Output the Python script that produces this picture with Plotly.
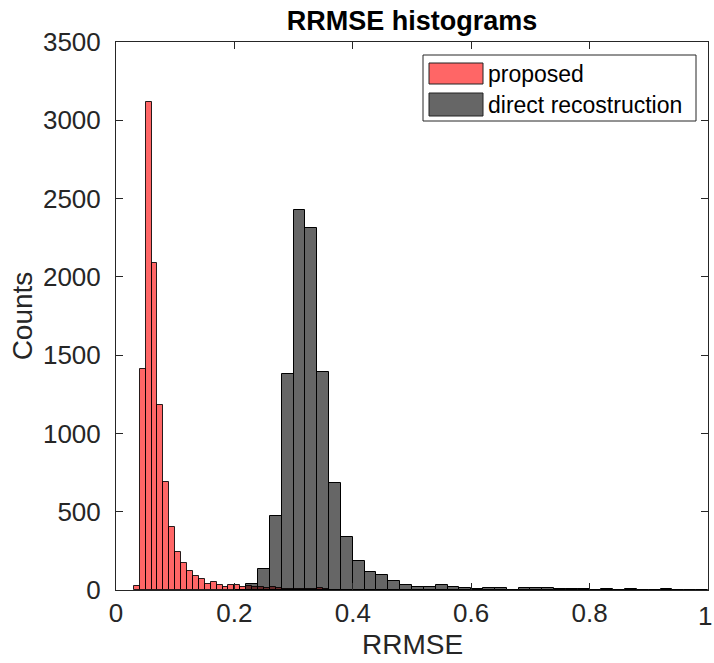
import numpy as np
import plotly.graph_objects as go

# ---- data ----
red_name = "proposed"
gray_name = "direct recostruction"

red_bin_width = 0.01
red_bin_start = 0.03
red_counts = [25, 1413, 3117, 2090, 1182, 690, 402, 241, 171, 121, 88, 70, 36, 49,
              32, 21, 32, 32, 21, 28, 20, 22, 15, 19, 12, 8, 8, 6, 6, 5, 4, 14, 5, 3, 2, 2]

gray_bin_width = 0.02
gray_bin_start = 0.20
gray_counts = [3, 36, 136, 473, 1378, 2425, 2310, 1390, 681, 336, 185, 113, 96, 55, 35,
               22, 22, 30, 22, 15, 8, 15, 15, 3, 15, 15, 15, 8, 8, 8, 3, 8, 2, 8, 2,
               2, 8, 2, 2, 2]

x_ticks = [0, 0.2, 0.4, 0.6, 0.8, 1]
x_tick_labels = ["0", "0.2", "0.4", "0.6", "0.8", "1"]
y_ticks = [0, 500, 1000, 1500, 2000, 2500, 3000, 3500]

red_left = np.round(red_bin_start + red_bin_width * np.arange(len(red_counts)), 4)
gray_left = np.round(gray_bin_start + gray_bin_width * np.arange(len(gray_counts)), 4)

FONT = "Liberation Sans, Arial, Helvetica, sans-serif"
AX = "#262626"
TICK_SIZE = 26
LABEL_SIZE = 28

fig = go.Figure()
fig.add_trace(go.Bar(
    x=red_left, y=red_counts, width=red_bin_width, offset=0, name=red_name,
    marker=dict(color="rgba(255,0,0,0.6)", line=dict(color="rgba(0,0,0,0.85)", width=1)),
    showlegend=False))
fig.add_trace(go.Bar(
    x=gray_left, y=gray_counts, width=gray_bin_width, offset=0, name=gray_name,
    marker=dict(color="rgba(0,0,0,0.6)", line=dict(color="rgba(0,0,0,1)", width=1)),
    showlegend=False))

W, H = 714, 663
L, R, T, B = 116, 6, 42, 73
pw, ph = W - L - R, H - T - B

def px(x):
    return (x - L) / pw

def py(y):
    return (H - B - y) / ph

shapes = [
    dict(type="rect", xref="paper", yref="paper", x0=px(423), x1=px(696), y0=py(121), y1=py(55),
         line=dict(color=AX, width=1), fillcolor="white", layer="above"),
    dict(type="rect", xref="paper", yref="paper", x0=px(429), x1=px(483), y0=py(84), y1=py(63),
         line=dict(color="#222", width=1), fillcolor="#FF6666", layer="above"),
    dict(type="rect", xref="paper", yref="paper", x0=px(429), x1=px(483), y0=py(116), y1=py(93),
         line=dict(color="#222", width=1), fillcolor="#666666", layer="above"),
]
annotations = [
    dict(xref="paper", yref="paper", x=px(486), y=py(74), text=red_name, showarrow=False,
         xanchor="left", yanchor="middle", font=dict(family=FONT, size=23, color="black")),
    dict(xref="paper", yref="paper", x=px(486), y=py(105), text=gray_name, showarrow=False,
         xanchor="left", yanchor="middle", font=dict(family=FONT, size=23, color="black")),
    # last x tick label, kept inside the page edge
    dict(xref="paper", yref="paper", x=1, y=0, yshift=-9, xshift=6,
         text=x_tick_labels[-1], showarrow=False, xanchor="right", yanchor="top",
         font=dict(family=FONT, size=TICK_SIZE, color=AX)),
    # x-axis title
    dict(xref="paper", yref="paper", x=0.5, y=py(662), text="RRMSE", showarrow=False,
         xanchor="center", yanchor="bottom",
         font=dict(family=FONT, size=LABEL_SIZE, color=AX)),
]

fig.update_layout(
    width=W, height=H,
    margin=dict(l=L, r=R, t=T, b=B, pad=0, autoexpand=False),
    paper_bgcolor="white", plot_bgcolor="white",
    barmode="overlay", bargap=0,
    font=dict(family=FONT, size=TICK_SIZE, color=AX),
    title=dict(text="<b>RRMSE histograms</b>", x=(L + pw / 2) / W, xanchor="center",
               y=1 - 21 / H, yanchor="middle", yref="container",
               font=dict(family=FONT, size=27, color="black")),
    shapes=shapes, annotations=annotations,
    xaxis=dict(range=[0, 1], tickvals=x_ticks, ticktext=x_tick_labels[:-1] + [""],
               ticks="inside", ticklen=7, tickcolor=AX,
               showline=True, linecolor=AX, linewidth=1, mirror="ticks", showgrid=False,
               zeroline=False, tickfont=dict(size=TICK_SIZE, color=AX), automargin=False),
    yaxis=dict(range=[0, 3500], tickvals=y_ticks, ticks="inside", ticklen=7, tickcolor=AX,
               showline=True, linecolor=AX, linewidth=1, mirror="ticks", showgrid=False,
               zeroline=False, tickfont=dict(size=TICK_SIZE, color=AX), ticklabelstandoff=9,
               automargin=False,
               title=dict(text="Counts", font=dict(size=LABEL_SIZE, color=AX), standoff=2)),
)

fig.write_html("out.html", config={"displayModeBar": False},
               post_script="document.body.style.margin='0';document.body.style.overflow='hidden';")
